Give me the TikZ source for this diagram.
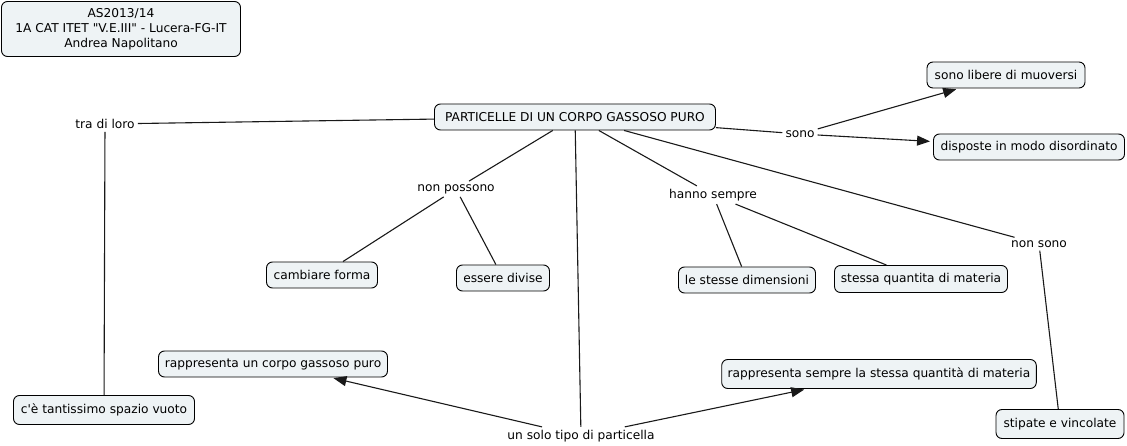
\documentclass[tikz,border=0pt]{standalone}
\usepackage{fontspec}
\setmainfont{DejaVu Sans}
\usetikzlibrary{arrows.meta}
\definecolor{cmapfill}{RGB}{238,243,245}
\tikzset{
  concept/.style={draw=black, line width=0.9pt, fill=cmapfill, rounded corners=6pt, inner xsep=6pt,
    minimum height=26pt, font=\fontsize{12.2}{15}\selectfont},
  linkword/.style={inner sep=3pt, font=\fontsize{12.2}{15}\selectfont},
  link/.style={draw=black!90, line width=1.1pt},
  arrowlink/.style={link, -{Triangle[length=13pt,width=10pt]}, shorten >=3pt}
}
\begin{document}
\begin{tikzpicture}[x=1pt,y=-1pt]
  \useasboundingbox (0,0) rectangle (1127,446);
  % Draw the concepts
  \node[concept, align=center, minimum width=239pt, minimum height=55pt] (header) at (121,29)
    {AS2013/14\\1A CAT ITET \textquotedbl V.E.III\textquotedbl{} - Lucera-FG-IT\\Andrea Napolitano};
  \node[concept, minimum width=281pt] (gas) at (575,117) {PARTICELLE DI UN CORPO GASSOSO PURO};
  \node[concept, minimum width=158pt] (liberi) at (1006,75) {sono libere di muoversi};
  \node[concept, minimum width=191pt] (disordine) at (1029,147) {disposte in modo disordinato};
  \node[concept, minimum width=111pt] (forma) at (322,275) {cambiare forma};
  \node[concept, minimum width=93pt] (divise) at (503,278) {essere divise};
  \node[concept, minimum width=137pt] (dimensioni) at (747,280) {le stesse dimensioni};
  \node[concept, minimum width=173pt, minimum height=27pt] (materia) at (921,279) {stessa quantita di materia};
  \node[concept, minimum width=229pt] (corpo) at (273,364) {rappresenta un corpo gassoso puro};
  \node[concept, minimum width=181pt, minimum height=29pt] (vuoto) at (104,410) {c\textquotesingle è tantissimo spazio vuoto};
  \node[concept, minimum width=313pt, minimum height=29pt] (quantita) at (879,374) {rappresenta sempre la stessa quantità di materia};
  \node[concept, minimum width=128pt, minimum height=29pt] (stipate) at (1060,424) {stipate e vincolate};

  % Draw the linking words
  \node[linkword] (tra) at (105,124) {tra di loro};
  \node[linkword] (sono) at (800,134) {sono};
  \node[linkword] (nonpossono) at (456,189) {non possono};
  \node[linkword] (hanno) at (713,195) {hanno sempre};
  \node[linkword] (nonsono) at (1039,244) {non sono};
  \node[linkword] (solo) at (581,436) {un solo tipo di particella};

  % Draw the links
  \draw[link] (gas) -- (tra);
  \draw[link] (tra) -- (vuoto);
  \draw[link] (gas) -- (sono);
  \draw[arrowlink] (sono) -- (liberi);
  \draw[arrowlink] (sono) -- (disordine);
  \draw[link] (gas) -- (nonpossono);
  \draw[link] (nonpossono) -- (forma);
  \draw[link] (nonpossono) -- (divise);
  \draw[link] (gas) -- (hanno);
  \draw[link] (hanno) -- (dimensioni);
  \draw[link] (hanno) -- (materia);
  \draw[link] (gas) -- (nonsono);
  \draw[link] (nonsono) -- (stipate);
  \draw[link] (gas) -- (solo);
  \draw[arrowlink] (solo) -- (corpo);
  \draw[arrowlink] (solo) -- (quantita);
\end{tikzpicture}
\end{document}
